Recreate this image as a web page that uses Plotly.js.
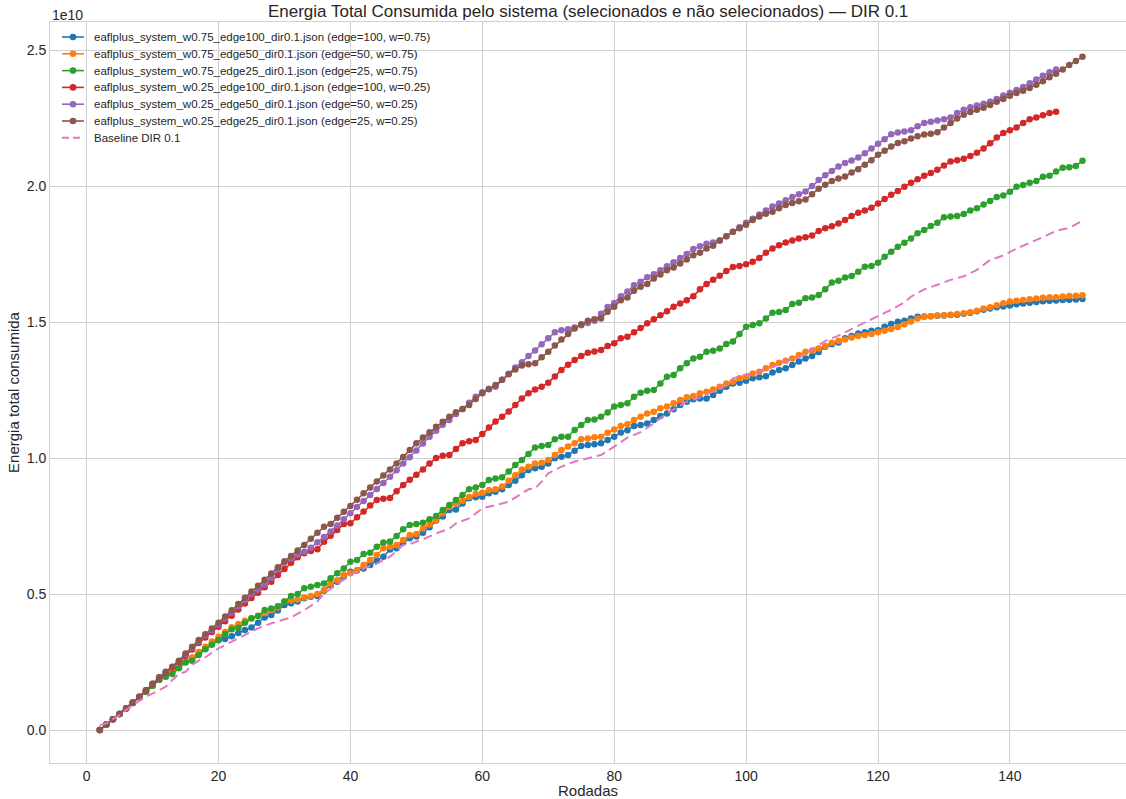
<!DOCTYPE html>
<html>
<head>
<meta charset="utf-8">
<script src="https://cdn.plot.ly/plotly-3.0.1.min.js"></script>
<style>html,body{margin:0;padding:0;background:#fff;}#chart{width:1126px;height:799px;}</style>
</head>
<body>
<div id="chart"></div>
<script>
// Values in units of 1e10; first round = 2
const firstRound = 2;
const seriesNames = [
  "eaflplus_system_w0.75_edge100_dir0.1.json (edge=100, w=0.75)",
  "eaflplus_system_w0.75_edge50_dir0.1.json (edge=50, w=0.75)",
  "eaflplus_system_w0.75_edge25_dir0.1.json (edge=25, w=0.75)",
  "eaflplus_system_w0.25_edge100_dir0.1.json (edge=100, w=0.25)",
  "eaflplus_system_w0.25_edge50_dir0.1.json (edge=50, w=0.25)",
  "eaflplus_system_w0.25_edge25_dir0.1.json (edge=25, w=0.25)"
];
const baselineName = "Baseline DIR 0.1";

const w075_e100 = [0.000,0.020,0.040,0.059,0.079,0.099,0.120,0.141,0.163,0.185,
0.198,0.215,0.232,0.250,0.265,0.283,0.300,0.316,0.330,0.335,
0.345,0.357,0.368,0.377,0.394,0.414,0.423,0.439,0.460,0.466,
0.472,0.484,0.490,0.493,0.512,0.533,0.545,0.564,0.582,0.586,
0.594,0.607,0.622,0.637,0.664,0.668,0.689,0.705,0.711,0.725,
0.745,0.770,0.785,0.809,0.811,0.833,0.852,0.856,0.858,0.870,
0.876,0.885,0.901,0.916,0.937,0.956,0.962,0.968,0.980,0.999,
1.005,1.011,1.027,1.044,1.048,1.051,1.054,1.066,1.078,1.094,
1.102,1.118,1.121,1.127,1.140,1.154,1.164,1.179,1.195,1.207,
1.216,1.219,1.219,1.232,1.247,1.262,1.274,1.277,1.284,1.293,
1.297,1.301,1.314,1.324,1.330,1.342,1.355,1.366,1.375,1.390,
1.409,1.418,1.425,1.440,1.449,1.458,1.462,1.468,1.470,1.483,
1.493,1.501,1.505,1.513,1.519,1.520,1.521,1.523,1.524,1.526,
1.527,1.530,1.534,1.540,1.545,1.550,1.554,1.557,1.561,1.565,
1.568,1.571,1.574,1.576,1.578,1.579,1.581,1.582,1.583,1.585];

const w075_e50 = [0.000,0.020,0.040,0.059,0.079,0.099,0.120,0.141,0.163,0.185,
0.200,0.216,0.235,0.252,0.267,0.287,0.306,0.325,0.343,0.360,
0.378,0.390,0.402,0.412,0.420,0.430,0.440,0.450,0.472,0.476,
0.480,0.487,0.493,0.500,0.515,0.539,0.551,0.570,0.576,0.588,
0.607,0.625,0.643,0.668,0.674,0.680,0.699,0.717,0.721,0.741,
0.756,0.772,0.797,0.820,0.833,0.843,0.857,0.868,0.872,0.882,
0.885,0.895,0.916,0.937,0.958,0.968,0.980,0.983,0.993,1.011,
1.029,1.042,1.054,1.069,1.072,1.076,1.078,1.093,1.105,1.118,
1.124,1.140,1.152,1.164,1.170,1.183,1.189,1.201,1.213,1.223,
1.228,1.238,1.244,1.252,1.262,1.274,1.280,1.293,1.299,1.311,
1.317,1.330,1.342,1.350,1.358,1.366,1.379,1.391,1.395,1.403,
1.412,1.424,1.431,1.436,1.443,1.449,1.452,1.456,1.462,1.468,
1.474,1.482,1.492,1.502,1.513,1.519,1.521,1.524,1.525,1.527,
1.529,1.532,1.536,1.541,1.550,1.554,1.562,1.569,1.575,1.578,
1.581,1.584,1.586,1.589,1.591,1.591,1.594,1.596,1.597,1.598];

const w075_e25 = [0.000,0.020,0.040,0.059,0.079,0.099,0.120,0.141,0.163,0.185,
0.196,0.206,0.227,0.248,0.255,0.276,0.297,0.313,0.331,0.352,
0.370,0.376,0.394,0.410,0.419,0.441,0.447,0.455,0.472,0.493,
0.500,0.521,0.527,0.533,0.539,0.558,0.576,0.594,0.619,0.625,
0.647,0.652,0.674,0.689,0.693,0.713,0.738,0.754,0.757,0.762,
0.775,0.787,0.809,0.827,0.846,0.864,0.885,0.892,0.901,0.919,
0.925,0.929,0.950,0.974,0.993,1.015,1.039,1.044,1.048,1.069,
1.078,1.078,1.103,1.121,1.140,1.142,1.152,1.167,1.189,1.195,
1.201,1.225,1.240,1.247,1.250,1.274,1.299,1.305,1.330,1.348,
1.366,1.372,1.391,1.394,1.403,1.419,1.428,1.456,1.483,1.489,
1.495,1.513,1.534,1.537,1.544,1.566,1.571,1.587,1.590,1.599,
1.620,1.645,1.652,1.664,1.669,1.685,1.703,1.706,1.718,1.740,
1.758,1.777,1.791,1.807,1.826,1.838,1.853,1.865,1.885,1.888,
1.890,1.897,1.910,1.918,1.932,1.945,1.960,1.965,1.979,1.997,
2.004,2.012,2.018,2.034,2.038,2.053,2.067,2.069,2.074,2.093];

const w025_e100 = [0.000,0.020,0.040,0.059,0.080,0.101,0.122,0.145,0.168,0.190,
0.210,0.230,0.250,0.272,0.296,0.320,0.340,0.360,0.380,0.400,
0.420,0.443,0.465,0.485,0.505,0.525,0.545,0.570,0.592,0.615,
0.635,0.650,0.658,0.665,0.692,0.714,0.735,0.757,0.760,0.782,
0.803,0.825,0.846,0.850,0.853,0.878,0.901,0.920,0.938,0.958,
0.980,1.000,1.008,1.011,1.033,1.054,1.062,1.066,1.088,1.112,
1.134,1.152,1.171,1.195,1.219,1.238,1.252,1.262,1.277,1.300,
1.324,1.343,1.360,1.375,1.387,1.392,1.397,1.412,1.422,1.440,
1.446,1.462,1.478,1.495,1.510,1.525,1.540,1.556,1.568,1.580,
1.595,1.620,1.640,1.655,1.670,1.688,1.702,1.706,1.712,1.722,
1.735,1.755,1.770,1.782,1.792,1.800,1.807,1.812,1.818,1.835,
1.845,1.852,1.862,1.875,1.890,1.902,1.910,1.920,1.936,1.952,
1.968,1.982,1.997,2.012,2.025,2.038,2.048,2.060,2.075,2.090,
2.095,2.100,2.110,2.122,2.138,2.157,2.178,2.195,2.205,2.215,
2.232,2.245,2.252,2.260,2.268,2.273];

const w025_e50 = [0.000,0.020,0.040,0.059,0.080,0.101,0.122,0.146,0.170,0.193,
0.213,0.232,0.253,0.278,0.302,0.326,0.348,0.368,0.388,0.410,
0.432,0.455,0.477,0.500,0.516,0.535,0.560,0.590,0.615,0.630,
0.645,0.655,0.670,0.690,0.710,0.730,0.752,0.775,0.797,0.820,
0.842,0.864,0.886,0.908,0.931,0.955,0.980,1.003,1.028,1.053,
1.078,1.100,1.122,1.140,1.162,1.180,1.203,1.225,1.242,1.255,
1.262,1.288,1.310,1.333,1.352,1.375,1.395,1.418,1.440,1.462,
1.470,1.473,1.480,1.488,1.496,1.505,1.530,1.555,1.570,1.595,
1.612,1.635,1.648,1.665,1.676,1.690,1.705,1.720,1.735,1.750,
1.768,1.779,1.788,1.792,1.800,1.815,1.832,1.848,1.865,1.880,
1.895,1.910,1.925,1.936,1.948,1.960,1.970,1.980,2.000,2.022,
2.040,2.055,2.072,2.085,2.094,2.105,2.120,2.138,2.155,2.172,
2.190,2.197,2.200,2.205,2.220,2.232,2.236,2.241,2.245,2.252,
2.268,2.280,2.290,2.296,2.302,2.310,2.320,2.333,2.343,2.353,
2.364,2.378,2.392,2.405,2.418,2.428];

const w025_e25 = [0.000,0.020,0.040,0.059,0.080,0.101,0.122,0.146,0.170,0.194,
0.214,0.233,0.255,0.281,0.306,0.331,0.352,0.373,0.394,0.417,
0.440,0.463,0.486,0.509,0.530,0.552,0.575,0.598,0.620,0.640,
0.660,0.680,0.703,0.725,0.747,0.757,0.780,0.802,0.824,0.847,
0.870,0.892,0.914,0.936,0.958,0.980,1.004,1.029,1.054,1.075,
1.095,1.115,1.133,1.152,1.168,1.180,1.195,1.217,1.238,1.253,
1.268,1.288,1.308,1.325,1.340,1.345,1.348,1.370,1.391,1.414,
1.436,1.456,1.476,1.492,1.505,1.510,1.513,1.538,1.556,1.580,
1.590,1.615,1.630,1.640,1.660,1.675,1.690,1.700,1.715,1.730,
1.745,1.755,1.770,1.780,1.800,1.815,1.832,1.845,1.858,1.875,
1.888,1.898,1.905,1.918,1.930,1.938,1.944,1.950,1.970,1.990,
2.005,2.018,2.028,2.035,2.050,2.062,2.078,2.095,2.115,2.130,
2.145,2.158,2.165,2.175,2.183,2.189,2.192,2.198,2.215,2.232,
2.248,2.262,2.272,2.280,2.288,2.298,2.310,2.320,2.332,2.342,
2.350,2.360,2.372,2.385,2.400,2.413,2.428,2.445,2.460,2.475];

const baselineRounds = [2,3,5,7,9,11,12,13,14,15,16,17,18,19,20,22,24,26,28,30,31,33,35,36,38,40,42,44,46,48,49,51,53,55,56,58,60,62,64,66,67,68,69,70,72,74,76,78,80,82,84,86,88,90,91,93,95,97,98,100,102,103,105,106,108,110,112,114,116,118,120,122,124,125,127,129,131,133,135,137,139,141,143,145,147,149,151];
const baselineValues = [0.018,0.025,0.055,0.092,0.122,0.147,0.159,0.184,0.206,0.214,0.239,0.255,0.267,0.284,0.300,0.325,0.349,0.374,0.392,0.408,0.414,0.441,0.472,0.502,0.537,0.570,0.594,0.612,0.637,0.680,0.684,0.701,0.723,0.740,0.760,0.778,0.815,0.827,0.839,0.870,0.885,0.888,0.913,0.944,0.968,0.987,0.999,1.011,1.042,1.075,1.095,1.127,1.165,1.195,1.207,1.222,1.245,1.268,1.293,1.307,1.318,1.324,1.345,1.355,1.370,1.400,1.430,1.450,1.475,1.498,1.522,1.545,1.572,1.593,1.620,1.637,1.655,1.668,1.692,1.728,1.745,1.770,1.790,1.812,1.835,1.846,1.872];

const xTicks = [0,20,40,60,80,100,120,140];
const yTicks = [0.0,0.5,1.0,1.5,2.0,2.5];

const colors = ["#1f77b4","#ff7f0e","#2ca02c","#d62728","#9467bd","#8c564b"];
const baselineColor = "#e377c2";
const allSeries = [w075_e100, w075_e50, w075_e25, w025_e100, w025_e50, w025_e25];

const traces = allSeries.map((vals, i) => ({
  type: "scatter",
  mode: "lines+markers",
  name: seriesNames[i],
  x: vals.map((_, j) => firstRound + j),
  y: vals,
  line: {color: colors[i], width: 1.6},
  marker: {color: colors[i], size: 6.5, symbol: "circle"},
  showlegend: false
}));
traces.push({
  type: "scatter",
  mode: "lines",
  name: baselineName,
  x: baselineRounds,
  y: baselineValues,
  line: {color: baselineColor, width: 2, dash: "9px,5px"},
  showlegend: false
});

const font = "Liberation Sans, Arial, sans-serif";
const textColor = "#262626";
const gridColor = "#d0d0d0";

// Compact legend (matplotlib-like row spacing) built from the same names/colours
const plotLeft = 50, plotTop = 22, plotW = 1076, plotH = 741;
const px2x = p => (p - plotLeft) / plotW;
const py2y = p => (plotTop + plotH - p) / plotH;
const legendTop = 37, legendRow = 16.8;
const legendNames = seriesNames.concat([baselineName]);
const legendColors = colors.concat([baselineColor]);
const shapes = [], annotations = [];
legendNames.forEach((nm, i) => {
  const yy = py2y(legendTop + i * legendRow);
  const isBase = i === legendNames.length - 1;
  shapes.push({type: "line", xref: "paper", yref: "paper",
    x0: px2x(62), x1: px2x(84), y0: yy, y1: yy,
    line: {color: legendColors[i], width: isBase ? 2 : 1.6, dash: isBase ? "7px,4px" : "solid"}});
  if (!isBase) {
    shapes.push({type: "circle", xref: "paper", yref: "paper",
      xsizemode: "pixel", ysizemode: "pixel", xanchor: px2x(73), yanchor: yy,
      x0: -3.3, x1: 3.3, y0: -3.3, y1: 3.3,
      fillcolor: legendColors[i], line: {color: legendColors[i], width: 0}});
  }
  annotations.push({text: nm, xref: "paper", yref: "paper", x: px2x(92), y: yy,
    xanchor: "left", yanchor: "middle", showarrow: false,
    font: {family: font, size: 11.5, color: textColor}});
});
annotations.push({
  text: "1e10", xref: "paper", yref: "paper", x: 0, y: 1, xanchor: "left", yanchor: "bottom",
  showarrow: false, font: {family: font, size: 14, color: textColor}, yshift: -3
});

const layout = {
  width: 1126, height: 799,
  paper_bgcolor: "#ffffff", plot_bgcolor: "#ffffff",
  margin: {l: 50, r: 0, t: 22, b: 36},
  font: {family: font, color: textColor, size: 14},
  title: {text: "Energia Total Consumida pelo sistema (selecionados e não selecionados) — DIR 0.1",
          font: {family: font, size: 17, color: textColor},
          x: 0.5223, xanchor: "center", y: 0.986, yanchor: "middle", yref: "container"},
  xaxis: {
    range: [-5.55, 157.6], tickvals: xTicks, ticktext: xTicks.map(String),
    showgrid: true, gridcolor: gridColor, gridwidth: 1, zeroline: false,
    showline: true, linecolor: gridColor, linewidth: 1, mirror: true,
    ticks: "", tickfont: {size: 14, color: textColor},
    title: {text: "Rodadas", font: {size: 15, color: textColor}, standoff: 6}
  },
  yaxis: {
    range: [-0.1213, 2.603], tickvals: yTicks, ticktext: yTicks.map(v => v.toFixed(1)),
    showgrid: true, gridcolor: gridColor, gridwidth: 1, zeroline: false,
    showline: true, linecolor: gridColor, linewidth: 1, mirror: true,
    ticks: "", tickfont: {size: 14, color: textColor},
    title: {text: "Energia total consumida", font: {size: 15, color: textColor}, standoff: 3}
  },
  showlegend: false,
  shapes: shapes,
  annotations: annotations
};

Plotly.newPlot("chart", traces, layout, {displayModeBar: false, staticPlot: true});
</script>
</body>
</html>
